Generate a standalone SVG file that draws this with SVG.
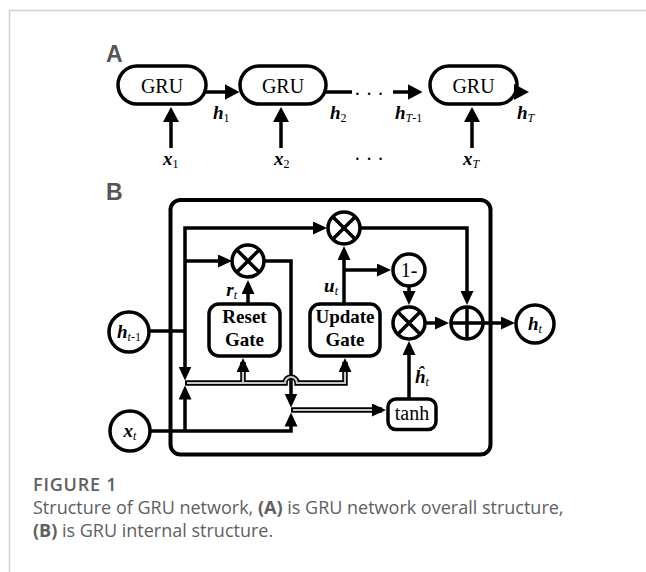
<svg xmlns="http://www.w3.org/2000/svg" width="646" height="572" viewBox="0 0 646 572">
<defs>
<marker id="ah" viewBox="0 0 14 13" markerWidth="14" markerHeight="13" markerUnits="userSpaceOnUse" refX="10" refY="6.5" orient="auto-start-reverse">
<path d="M0,0 L14,6.5 L0,13 z" fill="#000"/>
</marker>
<marker id="ahA" viewBox="0 0 15 16" markerWidth="15" markerHeight="16" markerUnits="userSpaceOnUse" refX="11" refY="8" orient="auto">
<path d="M0,0 L15,8 L0,16 z" fill="#000"/>
</marker>
<style>
.ln{fill:none;stroke:#000;stroke-width:3.5}
.nd{fill:#fff;stroke:#000;stroke-width:3.5}
.dbo{fill:none;stroke:#000;stroke-width:5.5}
.dbi{fill:none;stroke:#c8c8c8;stroke-width:2.2}
.m{font-family:"Liberation Serif",serif;font-weight:bold;font-style:italic;font-size:19px;fill:#000}
.sub{font-weight:normal;font-size:12px}
.up{font-style:normal}
.t{font-family:"Liberation Serif",serif;font-size:20px;fill:#000}
.g{font-family:"Liberation Serif",serif;font-weight:bold;font-size:19px;fill:#000}
.lab{font-family:"Liberation Sans",Arial,sans-serif;font-weight:bold;font-size:23px;fill:#555}
.cap{font-family:"Open Sans",sans-serif;font-size:18px;fill:#606060}
</style>
</defs>

<path d="M9.5,572 V10.5 H646" fill="none" stroke="#cfcfcf" stroke-width="1.5"/>

<!-- Panel A -->
<text class="lab" x="106" y="62">A</text>
<g id="gru1"><rect class="nd" x="118" y="66" width="88" height="38" rx="19"/><text class="t" x="162" y="93" text-anchor="middle">GRU</text></g>
<g id="gru2"><rect class="nd" x="240" y="66" width="86" height="38" rx="19"/><text class="t" x="283" y="93" text-anchor="middle">GRU</text></g>
<g id="gru3"><rect class="nd" x="430" y="66" width="87" height="38" rx="19"/><text class="t" x="473.5" y="93" text-anchor="middle">GRU</text></g>
<g id="connectors-a">
<path class="ln" d="M205,92 H235.5" marker-end="url(#ahA)"/>
<path class="ln" d="M325,92 H352"/>
<path class="ln" d="M393,92 H418.5" marker-end="url(#ahA)"/>
<path class="ln" d="M516,92 H525" marker-end="url(#ahA)"/>
<path class="ln" d="M171,148 V111" marker-end="url(#ahA)"/>
<path class="ln" d="M281,148 V111" marker-end="url(#ahA)"/>
<path class="ln" d="M472,148 V111" marker-end="url(#ahA)"/>
</g>
<text class="t" x="369" y="101" text-anchor="middle">· · ·</text>
<text class="t" x="369" y="166" text-anchor="middle">· · ·</text>
<text class="m" x="213" y="119">h<tspan class="sub up" dy="3">1</tspan></text>
<text class="m" x="330" y="119">h<tspan class="sub up" dy="3">2</tspan></text>
<text class="m" x="395" y="119">h<tspan class="sub" dy="3">T</tspan><tspan class="sub up">-1</tspan></text>
<text class="m" x="517" y="119">h<tspan class="sub" dy="3">T</tspan></text>
<text class="m" x="163" y="165">x<tspan class="sub up" dy="3">1</tspan></text>
<text class="m" x="274" y="165">x<tspan class="sub up" dy="3">2</tspan></text>
<text class="m" x="463" y="165">x<tspan class="sub" dy="3">T</tspan></text>

<!-- Panel B -->
<text class="lab" x="106" y="200">B</text>
<rect id="cell" x="170.5" y="200" width="320" height="254.5" rx="10" fill="none" stroke="#000" stroke-width="4"/>

<g id="connectors">
<path class="ln" d="M185,376.5 V228 H323" marker-start="url(#ah)" marker-end="url(#ah)"/>
<path class="ln" d="M185,261 H228" marker-end="url(#ah)"/>
<path class="ln" d="M264,261 H291 V403.5" marker-end="url(#ah)"/>
<path class="ln" d="M149,331 H185"/>
<path class="ln" d="M150,431 H291 V416.5" marker-end="url(#ah)"/>
<path class="ln" d="M185,431 V389.5" marker-end="url(#ah)"/>
<path class="ln" d="M248,304 V284" marker-end="url(#ah)"/>
<path class="ln" d="M344,303 V250" marker-end="url(#ah)"/>
<path class="ln" d="M344,270 H387" marker-end="url(#ah)"/>
<path class="ln" d="M409,286 V301" marker-end="url(#ah)"/>
<path class="ln" d="M360,228 H467 V301" marker-end="url(#ah)"/>
<path class="ln" d="M425,323 H445" marker-end="url(#ah)"/>
<path class="ln" d="M483,323 H511" marker-end="url(#ah)"/>
<path class="ln" d="M409,399 V345" marker-end="url(#ah)"/>
<path class="dbo" d="M185,383 H285 A6,6 0 0 1 297,383 H345 V362" marker-end="url(#ah)"/>
<path class="dbo" d="M243,383 V362" marker-end="url(#ah)"/>
<path class="dbo" d="M291,410 H382" marker-end="url(#ah)"/>
<path class="dbi" d="M187,383 H285 A6,6 0 0 1 297,383 H345 V372"/>
<path class="dbi" d="M243,383 V372"/>
<path class="dbi" d="M293,410 H372"/>
</g>

<g id="mul-reset"><circle class="nd" cx="248" cy="261" r="16"/><path class="ln" d="M236.7,249.7 L259.3,272.3 M259.3,249.7 L236.7,272.3"/></g>
<g id="mul-top"><circle class="nd" cx="344" cy="228" r="16"/><path class="ln" d="M332.7,216.7 L355.3,239.3 M355.3,216.7 L332.7,239.3"/></g>
<g id="one-minus"><circle class="nd" cx="409" cy="270" r="16"/><text class="t" x="409" y="276.5" text-anchor="middle" font-size="18">1-</text></g>
<g id="mul-low"><circle class="nd" cx="409" cy="323" r="16"/><path class="ln" d="M397.7,311.7 L420.3,334.3 M420.3,311.7 L397.7,334.3"/></g>
<g id="add"><circle class="nd" cx="467" cy="323" r="16"/><path class="ln" d="M451,323 H483 M467,307 V339"/></g>
<g id="reset-gate"><rect class="nd" x="209" y="304" width="71" height="52" rx="10"/><text class="g" x="244.5" y="323" text-anchor="middle">Reset</text><text class="g" x="244.5" y="346" text-anchor="middle">Gate</text></g>
<g id="update-gate"><rect class="nd" x="310" y="304" width="70" height="52" rx="10"/><text class="g" x="345" y="323" text-anchor="middle">Update</text><text class="g" x="345" y="346" text-anchor="middle">Gate</text></g>
<g id="tanh"><rect class="nd" x="388" y="399" width="48" height="30.5" rx="8"/><text class="t" x="412" y="420" text-anchor="middle" font-size="19">tanh</text></g>
<g id="h-prev"><circle class="nd" cx="129" cy="332" r="20"/><text class="m" x="129" y="338" text-anchor="middle">h<tspan class="sub" dy="3">t</tspan><tspan class="sub up">-1</tspan></text></g>
<g id="x-t"><circle class="nd" cx="130" cy="431" r="20"/><text class="m" x="130" y="437" text-anchor="middle">x<tspan class="sub" dy="3">t</tspan></text></g>
<g id="h-t"><circle class="nd" cx="535" cy="324" r="19"/><text class="m" x="535" y="330" text-anchor="middle">h<tspan class="sub" dy="3">t</tspan></text></g>

<text class="m" x="237" y="296" text-anchor="end">r<tspan class="sub" dy="3">t</tspan></text>
<text class="m" x="338" y="292" text-anchor="end">u<tspan class="sub" dy="3">t</tspan></text>
<text class="m" x="415" y="383">ĥ<tspan class="sub" dy="3">t</tspan></text>

<!-- Caption -->
<text class="cap" x="33" y="491" font-weight="600" font-size="19" letter-spacing="0.8" fill="#4a4a4a">FIGURE 1</text>
<text class="cap" x="33" y="514">Structure of GRU network, <tspan font-weight="bold">(A)</tspan> is GRU network overall structure,</text>
<text class="cap" x="33" y="537"><tspan font-weight="bold">(B)</tspan> is GRU internal structure.</text>
</svg>
